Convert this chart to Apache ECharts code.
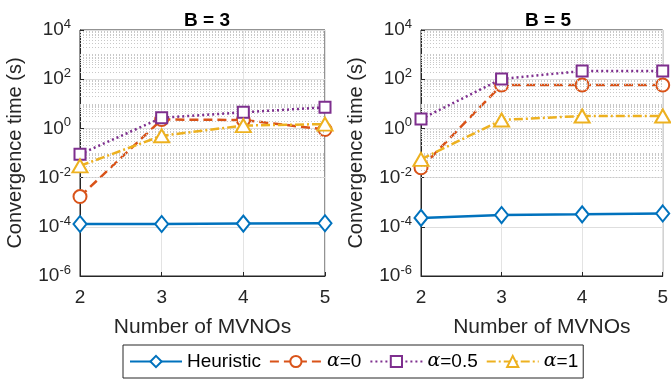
<!DOCTYPE html>
<html>
<head>
<meta charset="utf-8">
<script src="https://cdn.jsdelivr.net/npm/echarts@6/dist/echarts.min.js"></script>
<style>
  html, body { margin: 0; padding: 0; background: #fff; }
  #chart { width: 671px; height: 386px; }
</style>
</head>
<body>
<div id="chart"></div>
<script>
  // data
  const mvnos = [2, 3, 4, 5];
  const panelTitles = ['B = 3', 'B = 5'];
  const seriesNames = ['Heuristic', 'α=0', 'α=0.5', 'α=1'];

  const b3Heuristic = [1.3e-4, 1.3e-4, 1.35e-4, 1.4e-4];
  const b3Alpha0 = [1.7e-3, 2.3, 2.2, 0.9];
  const b3Alpha05 = [0.09, 2.7, 4.5, 7.2];
  const b3Alpha1 = [0.03, 0.5, 1.3, 1.5];

  const b5Heuristic = [2.3e-4, 3.0e-4, 3.2e-4, 3.5e-4];
  const b5Alpha0 = [0.025, 58, 58, 58];
  const b5Alpha05 = [2.4, 102, 215, 215];
  const b5Alpha1 = [0.055, 2.2, 3.2, 3.2];

  const panels = [
    [b3Heuristic, b3Alpha0, b3Alpha05, b3Alpha1],
    [b5Heuristic, b5Alpha0, b5Alpha05, b5Alpha1]
  ];

  // matlab look
  const colors = ['#0072BD', '#D95319', '#7E2F8E', '#EDB120'];
  const symbols = ['emptyDiamond', 'emptyCircle', 'emptyRect', 'emptyTriangle'];
  const symbolSizes = [[13, 16], 13, 11, [15, 13]];
  const dashes = ['solid', [9, 5], [2, 3], [9, 3, 2, 3]];
  const font = 'Liberation Sans, Arial, sans-serif';
  const ink = '#262626';

  // minor grid lines (2..9 x 10^n) like matlab's dotted minor grid
  const minorLines = [];
  for (let e = -6; e < 4; e++) {
    for (let k = 2; k <= 9; k++) minorLines.push(k * Math.pow(10, e));
    if (e % 2 !== 0) minorLines.push(Math.pow(10, e));
  }

  const gridLeft = [80, 421];
  const grids = gridLeft.map(l => ({
    left: l, top: 30, width: 245, height: 246,
    show: true, borderColor: ink, borderWidth: 1, backgroundColor: '#fff'
  }));

  const xAxes = gridLeft.map((l, i) => ({
    type: 'value', gridIndex: i, min: 2, max: 5, interval: 1,
    name: 'Number of MVNOs', nameLocation: 'middle', nameGap: 41,
    nameTextStyle: { color: ink, fontSize: 21, fontFamily: font, verticalAlign: 'top' },
    axisLine: { lineStyle: { color: ink } },
    axisTick: { inside: true, length: 4, lineStyle: { color: ink } },
    axisLabel: { color: ink, fontSize: 19, fontFamily: font, margin: 12 },
    splitLine: { show: true, lineStyle: { color: '#e3e3e3', width: 1 } }
  }));

  const yAxes = gridLeft.map((l, i) => ({
    type: 'log', logBase: 10, gridIndex: i, min: 1e-6, max: 1e4, splitNumber: 5, interval: 2,
    name: 'Convergence time (s)', nameLocation: 'middle', nameGap: 55,
    nameTextStyle: { color: ink, fontSize: 20, fontFamily: font },
    axisLine: { show: true, lineStyle: { color: ink } },
    axisTick: { inside: true, length: 4, lineStyle: { color: ink } },
    axisLabel: {
      color: ink, fontSize: 19, fontFamily: font, margin: 9,
      formatter: v => '{b|10}{s|' + Math.round(Math.log10(v)) + '}',
      rich: {
        b: { fontSize: 19, fontFamily: font, color: ink },
        s: { fontSize: 13, fontFamily: font, color: ink, padding: [0, 0, 11, 0] }
      }
    },
    splitLine: { show: true, lineStyle: { color: '#dedede', width: 1 } }
  }));

  const series = [];
  panels.forEach((lines, p) => {
    // holder for minor grid
    series.push({
      type: 'line', xAxisIndex: p, yAxisIndex: p, data: [], silent: true,
      markLine: {
        silent: true, symbol: 'none', label: { show: false },
        lineStyle: { color: '#c8c8c8', type: [1, 2], width: 1 },
        data: minorLines.map(v => ({ yAxis: v }))
      }
    });
    lines.forEach((vals, s) => {
      series.push({
        name: seriesNames[s], type: 'line', xAxisIndex: p, yAxisIndex: p,
        data: mvnos.map((x, j) => [x, vals[j]]),
        symbol: symbols[s], symbolSize: symbolSizes[s],
        color: colors[s],
        lineStyle: { color: colors[s], width: 2.5, type: dashes[s] },
        itemStyle: { color: colors[s], borderColor: colors[s], borderWidth: 2.5 },
        z: 3 + s
      });
    });
  });

  const chart = echarts.init(document.getElementById('chart'), null, { renderer: 'canvas' });
  chart.setOption({
    animation: false,
    backgroundColor: '#fff',
    title: panelTitles.map((t, i) => ({
      text: t, left: gridLeft[i] + 122, top: 6, textAlign: 'center',
      textStyle: { fontSize: 19, fontWeight: 'bold', fontFamily: font, color: '#000' }
    })),
    grid: grids,
    xAxis: xAxes,
    yAxis: yAxes,
    legend: {
      data: seriesNames, left: 123, top: 345, width: 476,
      itemWidth: 52, itemHeight: 14, itemGap: 8,
      borderColor: ink, borderWidth: 1, padding: [7, 5, 7, 6],
      backgroundColor: '#fff',
      formatter: n => n.replace('α', '{a|α}'),
      textStyle: {
        fontSize: 19, fontFamily: font, color: '#000',
        rich: { a: { fontSize: 19, fontStyle: 'italic', fontFamily: 'DejaVu Serif, serif', color: '#000' } }
      }
    },
    series: series
  });
</script>
</body>
</html>
